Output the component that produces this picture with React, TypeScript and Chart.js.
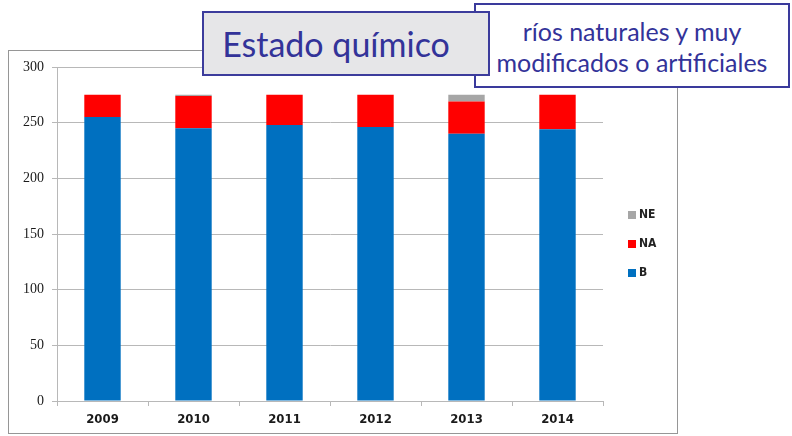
import React, { useEffect, useRef } from "react";
import { Chart, registerables } from "chart.js";

Chart.register(...registerables);

const categories = ["2009", "2010", "2011", "2012", "2013", "2014"];
const seriesB = [255, 245, 248, 246, 240, 244];
const seriesNA = [20, 29, 27, 29, 29, 31];
const seriesNE = [0, 1, 0, 0, 6, 0];
const yTicks = [0, 50, 100, 150, 200, 250, 300];

const GRID = "#b8b8b8";

const framePlugin = {
  id: "frame",
  beforeDraw(chart: any) {
    const ctx = chart.ctx;
    ctx.save();
    ctx.strokeStyle = "#969696";
    ctx.lineWidth = 1;
    ctx.strokeRect(8.5, 50.5, 669, 383);
    ctx.restore();
  },
  afterDraw(chart: any) {
    const ctx = chart.ctx;
    ctx.save();
    const items = [2, 1, 0];
    const ys = [215, 244, 273];
    ctx.font = "bold 12px 'Liberation Sans Narrow', 'DejaVu Sans Condensed', sans-serif";
    ctx.textBaseline = "middle";
    items.forEach((di, i) => {
      const ds = chart.data.datasets[di];
      ctx.fillStyle = ds.backgroundColor;
      ctx.fillRect(628, ys[i] - 4, 8, 8);
      ctx.fillStyle = "#222";
      ctx.fillText(ds.label, 639, ys[i]);
    });
    ctx.restore();
  },
};

export default function App() {
  const ref = useRef<HTMLCanvasElement>(null);
  useEffect(() => {
    if (!ref.current) return;
    const chart = new Chart(ref.current, {
      type: "bar",
      data: {
        labels: categories,
        datasets: [
          { label: "B", data: seriesB, backgroundColor: "#0070c0" },
          { label: "NA", data: seriesNA, backgroundColor: "#ff0000" },
          { label: "NE", data: seriesNE, backgroundColor: "#a6a6a6" },
        ],
      },
      options: {
        animation: false,
        responsive: false,
        devicePixelRatio: 1,
        layout: { padding: { left: 0, right: 189, top: 67, bottom: 0 } },
        datasets: { bar: { categoryPercentage: 1, barPercentage: 0.4 } },
        plugins: { legend: { display: false }, tooltip: { enabled: false }, title: { display: false } },
        scales: {
          x: {
            stacked: true,
            afterFit: (s: any) => {
              s.height = 35;
            },
            grid: { drawOnChartArea: false, drawTicks: true, tickLength: 5, color: GRID, offset: true },
            border: { display: true, color: GRID },
            ticks: {
              color: "#1a1a1a",
              padding: 6,
              font: { family: "'Liberation Sans Narrow', 'DejaVu Sans Condensed', sans-serif", size: 13, weight: "bold" },
            },
          },
          y: {
            stacked: true,
            min: 0,
            max: 300,
            afterFit: (s: any) => {
              s.width = 57;
            },
            afterBuildTicks: (s: any) => {
              s.ticks = yTicks.map((v) => ({ value: v }));
            },
            grid: { color: GRID, tickLength: 5, drawTicks: true },
            border: { display: true, color: GRID },
            ticks: {
              color: "#1a1a1a",
              padding: 8,
              font: { family: "'Liberation Serif', 'DejaVu Serif', serif", size: 14 },
            },
          },
        },
      },
      plugins: [framePlugin],
    });
    return () => chart.destroy();
  }, []);

  return (
    <div style={{ position: "fixed", left: 0, top: 0, width: 792, height: 436, background: "#fff" }}>
      <canvas ref={ref} width={792} height={436} style={{ position: "absolute", left: 0, top: 0 }} />
      <div
        style={{
          position: "absolute",
          left: 474,
          top: 3,
          width: 316,
          height: 85,
          boxSizing: "border-box",
          border: "2px solid #3a3a9c",
          background: "#fff",
          color: "#333399",
          fontFamily: "Lato, 'Open Sans', sans-serif",
          fontSize: 25,
          lineHeight: "31px",
          textAlign: "center",
          paddingTop: 11,
        }}
      >
        <div>ríos naturales y muy</div>
        <div>modificados o artificiales</div>
      </div>
      <div
        style={{
          position: "absolute",
          left: 202,
          top: 11,
          width: 288,
          height: 65,
          boxSizing: "border-box",
          border: "2px solid #3c3c9c",
          background: "#e6e6e8",
          color: "#333399",
          fontFamily: "Lato, 'Open Sans', sans-serif",
          fontSize: 34,
          lineHeight: "61px",
          textAlign: "center",
          paddingRight: 20,
        }}
      >
        Estado químico
      </div>
    </div>
  );
}
